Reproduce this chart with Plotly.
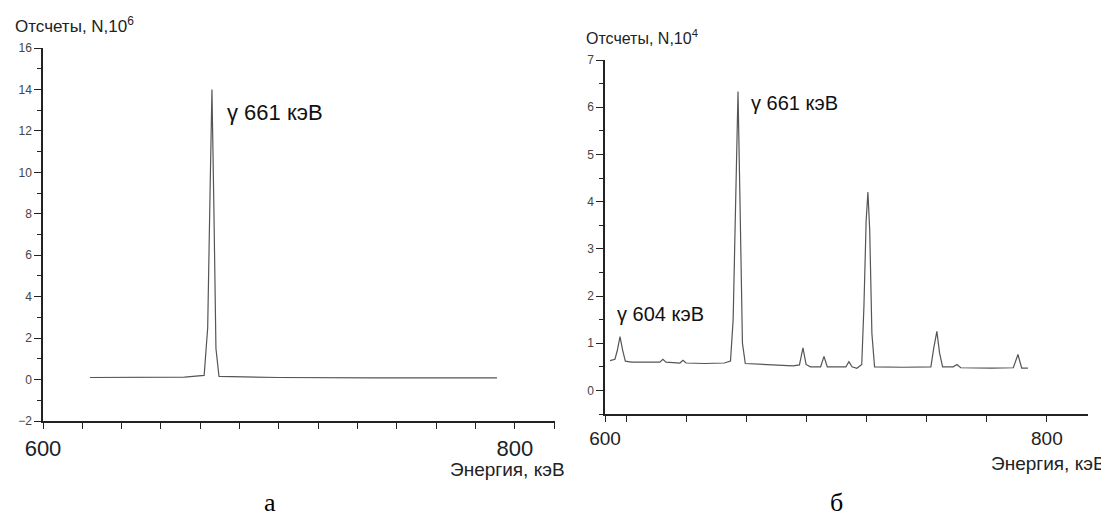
import plotly.graph_objects as go

# ---------------- data ----------------
# panel "а": counts, N x 10^6 vs energy, keV
energy_a = [619.9, 640.0, 660.0, 668.3, 669.8, 670.8, 671.6, 672.4, 673.3, 674.6, 700.0, 740.0, 792.4]
counts_a = [0.10, 0.10, 0.12, 0.20, 2.5, 9.0, 14.0, 8.5, 1.5, 0.15, 0.10, 0.08, 0.08]

# panel "б": counts, N x 10^4 vs energy, keV
energy_b = [602.3, 604.5, 605.6, 606.8, 608.0, 609.2, 612.0, 620.0, 624.8, 626.2, 627.6,
            633.9, 635.3, 636.7, 645.0, 654.0, 656.8, 658.0, 659.3, 660.2, 661.1, 662.2,
            663.5, 670.0, 685.0, 688.0, 689.6, 691.0, 693.0, 697.6, 699.1, 700.6, 705.0,
            709.0, 710.4, 711.8, 714.0, 716.2, 717.2, 718.2, 719.0, 719.8, 720.8, 722.0,
            735.0, 747.5, 748.8, 750.2, 751.4, 752.8, 757.6, 759.3, 761.0, 775.0, 784.8,
            786.9, 788.6, 791.4]
counts_b = [0.63, 0.66, 0.85, 1.14, 0.85, 0.62, 0.60, 0.60, 0.60, 0.66, 0.60,
            0.58, 0.64, 0.58, 0.57, 0.58, 0.62, 1.5, 4.5, 6.33, 4.0, 1.0,
            0.57, 0.55, 0.52, 0.54, 0.90, 0.55, 0.50, 0.50, 0.72, 0.50, 0.50,
            0.50, 0.61, 0.50, 0.47, 0.55, 1.8, 3.6, 4.2, 3.4, 1.2, 0.50,
            0.49, 0.50, 0.90, 1.25, 0.80, 0.50, 0.50, 0.55, 0.48, 0.47, 0.48,
            0.76, 0.47, 0.47]

x_tick_values = [600, 800]
x_tick_labels = ["600", "800"]
y_title_a = "Отсчеты, N,10<sup>6</sup>"
y_title_b = "Отсчеты, N,10<sup>4</sup>"
x_title = "Энергия, кэВ"
peak_labels_a = ["γ 661 кэВ"]
peak_labels_b = ["γ 661 кэВ", "γ 604 кэВ"]
panel_labels = ["а", "б"]

# ---------------- figure ----------------
W, H = 1109, 517
OFF = 8  # page body margin of the browser
SANS = "Arial, Liberation Sans, sans-serif"
SERIF = "Times New Roman, Liberation Serif, serif"
LINE = "#555555"
AX = "#222222"


def px(x):
    return (x - OFF) / W


def py(y):
    return 1 - (y - OFF) / H


fig = go.Figure()
fig.add_trace(go.Scatter(x=energy_a, y=counts_a, mode="lines",
                         line=dict(color=LINE, width=1.2), xaxis="x", yaxis="y",
                         showlegend=False, hoverinfo="x+y"))
fig.add_trace(go.Scatter(x=energy_b, y=counts_b, mode="lines",
                         line=dict(color=LINE, width=1.2), xaxis="x2", yaxis="y2",
                         showlegend=False, hoverinfo="x+y"))

common_axis = dict(showline=True, linecolor=AX, linewidth=1.5, showgrid=False,
                   zeroline=False, ticks="outside", tickcolor=AX, tickwidth=1.2,
                   automargin=False)

fig.update_layout(
    width=W, height=H,
    margin=dict(l=0, r=0, t=0, b=0),
    paper_bgcolor="white", plot_bgcolor="white",
    xaxis=dict(domain=[px(43), px(555)], range=[600, 817], anchor="y",
               tickmode="array", tickvals=x_tick_values, ticktext=x_tick_labels, ticklen=6,
               minor=dict(tickmode="linear", tick0=600, dtick=200 / 12, ticks="outside",
                          ticklen=6, tickcolor=AX, tickwidth=1.2, showgrid=False),
               tickfont=dict(family=SANS, size=22, color="#222"), ticklabelstandoff=1,
               **common_axis),
    yaxis=dict(domain=[py(421), py(48)], range=[-2, 16], anchor="x",
               dtick=2, tick0=0, ticklen=7,
               minor=dict(dtick=1, ticklen=4, ticks="outside", tickcolor=AX, tickwidth=1.1),
               tickfont=dict(family=SANS, size=12, color="#444"),
               **common_axis),
    xaxis2=dict(domain=[px(605), px(1088)], range=[600, 818.6], anchor="y2",
                tickmode="array", tickvals=x_tick_values, ticktext=x_tick_labels, ticklen=6,
                minor=dict(tickmode="linear", tick0=800, dtick=27.2, ticks="outside",
                           ticklen=6, tickcolor=AX, tickwidth=1.2, showgrid=False),
                tickfont=dict(family=SANS, size=19, color="#222"), ticklabelstandoff=0,
                **common_axis),
    yaxis2=dict(domain=[py(414), py(60)], range=[-0.5, 7], anchor="x2",
                dtick=1, tick0=0, ticklen=7,
                minor=dict(dtick=0.5, ticklen=4, ticks="outside", tickcolor=AX, tickwidth=1.1),
                tickfont=dict(family=SANS, size=12, color="#444"),
                **common_axis),
)

ann = []
# axis titles
ann.append(dict(text=y_title_a, x=px(13), y=py(25), xref="paper", yref="paper",
                xanchor="left", yanchor="middle", showarrow=False,
                font=dict(family=SANS, size=17, color="#222")))
ann.append(dict(text=y_title_b, x=px(584), y=py(37), xref="paper", yref="paper",
                xanchor="left", yanchor="middle", showarrow=False,
                font=dict(family=SANS, size=16, color="#222")))
ann.append(dict(text=x_title, x=px(567), y=py(469), xref="paper", yref="paper",
                xanchor="right", yanchor="middle", showarrow=False,
                font=dict(family=SANS, size=19, color="#222")))
ann.append(dict(text=x_title, x=px(1108), y=py(463), xref="paper", yref="paper",
                xanchor="right", yanchor="middle", showarrow=False,
                font=dict(family=SANS, size=19, color="#222")))
# peak labels (data coordinates)
ann.append(dict(text=peak_labels_a[0], x=677.1, y=12.9, xref="x", yref="y",
                xanchor="left", yanchor="middle", showarrow=False,
                font=dict(family=SANS, size=22, color="#111")))
ann.append(dict(text=peak_labels_b[0], x=665.2, y=6.09, xref="x2", yref="y2",
                xanchor="left", yanchor="middle", showarrow=False,
                font=dict(family=SANS, size=20, color="#111")))
ann.append(dict(text=peak_labels_b[1], x=604.5, y=1.61, xref="x2", yref="y2",
                xanchor="left", yanchor="middle", showarrow=False,
                font=dict(family=SANS, size=20, color="#111")))
# panel labels
ann.append(dict(text=panel_labels[0], x=px(270), y=py(502), xref="paper", yref="paper",
                xanchor="center", yanchor="middle", showarrow=False,
                font=dict(family=SERIF, size=26, color="#000")))
ann.append(dict(text=panel_labels[1], x=px(836), y=py(502), xref="paper", yref="paper",
                xanchor="center", yanchor="middle", showarrow=False,
                font=dict(family=SERIF, size=26, color="#000")))
fig.update_layout(annotations=ann)

fig.write_html("out.html")
